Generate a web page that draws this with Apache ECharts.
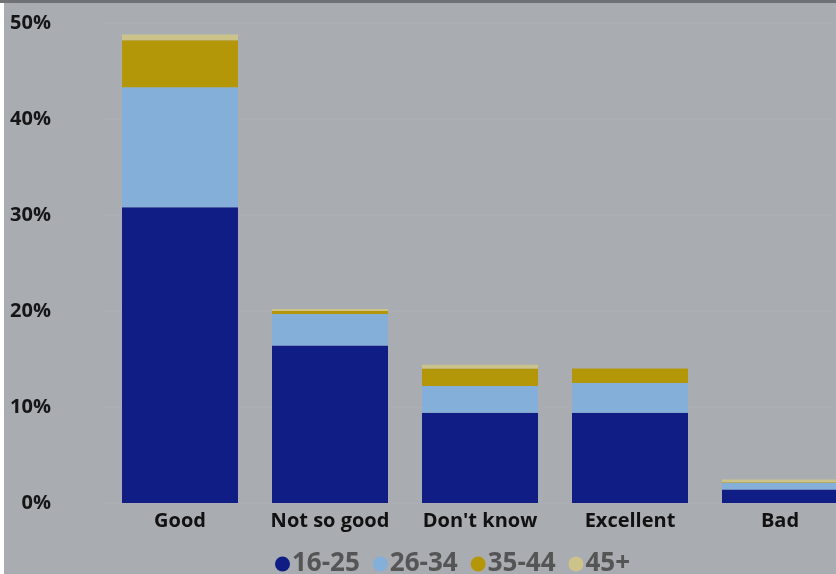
<!DOCTYPE html>
<html><head><meta charset="utf-8">
<script src="https://cdn.jsdelivr.net/npm/echarts@6/dist/echarts.min.js"></script>
<style>html,body{margin:0;padding:0;background:#fff;}#c{width:836px;height:574px;}</style>
</head><body><div id="c"></div>
<script>
const categories = ["Good", "Not so good", "Don't know", "Excellent", "Bad"];
const seriesNames = ["16-25", "26-34", "35-44", "45+"];
const v1625 = [30.8, 16.4, 9.4, 9.4, 1.4];
const v2634 = [12.5, 3.3, 2.8, 3.1, 0.7];
const v3544 = [4.9, 0.3, 1.8, 1.5, 0.05];
const v45 = [0.6, 0.2, 0.4, 0, 0.3];
const yTicks = [0, 10, 20, 30, 40, 50];

const colors = ["#0f1d85", "#84afd9", "#b39708", "#cbc38a"];
const values = [v1625, v2634, v3544, v45];
const chart = echarts.init(document.getElementById('c'));
chart.setOption({
  backgroundColor: '#a9acb0',
  animation: false,
  graphic: [
    {type: 'rect', left: 0, top: 0, shape: {width: 4, height: 574}, style: {fill: '#ffffff'}, z: 100},
    {type: 'rect', left: 0, top: 0, shape: {width: 836, height: 3}, style: {fill: '#6e7175'}, z: 100}
  ],
  grid: {left: 105, width: 750, top: 23, bottom: 71, outerBoundsMode: 'none', containLabel: false},
  legend: {
    left: 270, top: 546, icon: 'circle', itemWidth: 15, itemHeight: 15, itemGap: 13,
    textStyle: {fontSize: 26, fontWeight: 'bold', color: '#555', fontFamily: 'Open Sans', padding: [0,0,0,-3]},
    data: seriesNames
  },
  xAxis: {
    type: 'category', data: categories,
    axisLine: {show: false}, axisTick: {show: false},
    axisLabel: {interval: 0, hideOverlap: false, fontSize: 20, fontWeight: 'bold', color: '#111', fontFamily: 'Open Sans', margin: 8}
  },
  yAxis: {
    type: 'value', min: 0, max: 50, interval: 10,
    axisLabel: {formatter: v => yTicks.includes(v) ? v + '%' : '', fontSize: 20, fontWeight: 'bold', color: '#151515', fontFamily: 'Open Sans', margin: 54, align: 'right'},
    splitLine: {lineStyle: {type: [1, 3], color: '#b3b6ba', width: 1}}
  },
  series: seriesNames.map((n, i) => ({
    name: n, type: 'bar', stack: 'all', data: values[i], barWidth: 116,
    itemStyle: {color: colors[i]}
  }))
});
</script></body></html>
